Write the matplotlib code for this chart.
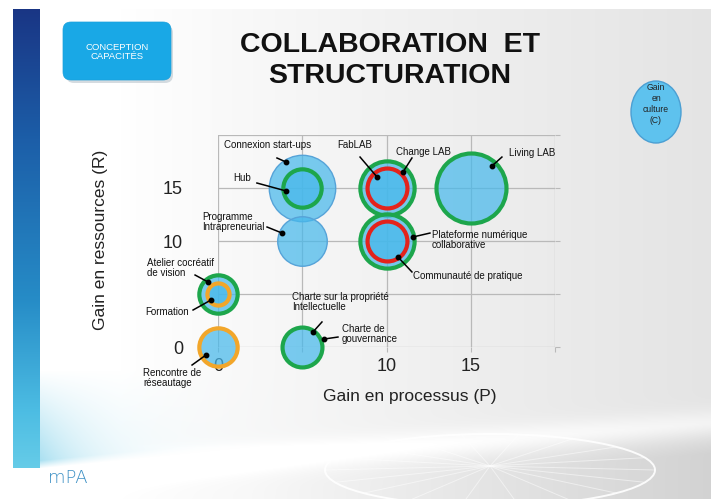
import numpy as np
import matplotlib
matplotlib.use("Agg")
import matplotlib.pyplot as plt
from matplotlib.patches import FancyBboxPatch, Ellipse

plt.rcParams['font.family'] = ['Liberation Sans', 'DejaVu Sans']

# ---------------- data ----------------
bubble_names = ["Connexion start-ups", "Living LAB", "Change LAB", "Plateforme numérique collaborative",
                "Programme Intrapreneurial", "Charte", "FabLAB", "Communauté de pratique",
                "Hub", "Atelier cocréatif de vision", "Rencontre de réseautage", "Formation"]
gain_processus = [5, 15, 10, 10, 5, 5, 10, 10, 5, 0, 0, 0]      # P (x)
gain_ressources = [15, 15, 15, 10, 10, 0, 15, 10, 15, 5, 0, 5]   # R (y)
gain_culture = [18, 20, 12, 12, 10, 6.5, 6.5, 6.5, 6, 6, 6, 2]   # C (bubble size)
ring_colour = ["none", "green", "green", "green", "none", "green", "red", "red",
               "green", "green", "orange", "orange"]

x_ticks = [0, 5, 10, 15, 20]
x_tick_labels = ["0", "", "10", "15", ""]
y_ticks = [0, 5, 10, 15, 20]
y_tick_labels = ["0", "", "10", "15", ""]

# annotation: label, text pos, ha, line start, dot pos (data coords)
annotations = [
    ("Connexion start-ups", (2.97, 19.06), "center", (3.50, 17.83), (4.04, 17.45)),
    ("Hub", (1.42, 15.94), "center", (2.31, 15.47), (4.04, 14.72)),
    ("Programme\nIntrapreneurial", (-0.95, 11.79), "left", (2.91, 11.32), (3.80, 10.75)),
    ("FabLAB", (8.13, 19.06), "center", (8.43, 17.92), (9.44, 16.04)),
    ("Change LAB", (12.17, 18.40), "center", (11.51, 17.83), (10.98, 16.51)),
    ("Living LAB", (18.64, 18.30), "center", (16.85, 17.92), (16.26, 17.08)),
    ("Plateforme numérique\ncollaborative", (12.70, 10.09), "left", (12.58, 10.75), (11.57, 10.38)),
    ("Communauté de pratique", (11.57, 6.70), "left", (11.51, 7.08), (10.68, 8.49)),
    ("Atelier cocréatif\nde vision", (-4.21, 7.45), "left", (-1.36, 6.79), (-0.59, 6.13)),
    ("Formation", (-4.33, 3.30), "left", (-1.48, 3.49), (-0.42, 4.43)),
    ("Rencontre de\nréseautage", (-4.45, -2.92), "left", (-1.54, -1.70), (-0.71, -0.75)),
    ("Charte sur la propriété\nIntellectuelle", (4.39, 4.25), "left", (6.17, 2.36), (5.64, 1.42)),
    ("Charte de\ngouvernance", (7.36, 1.23), "left", (7.12, 0.94), (6.29, 0.75)),
]

title_lines = ["COLLABORATION  ET", "STRUCTURATION"]

# ---------------- figure / background ----------------
W, H = 711, 499
fig = plt.figure(figsize=(W / 100, H / 100), dpi=100)
bg = fig.add_axes([0, 0, 1, 1])
bg.set_xlim(0, W)
bg.set_ylim(H, 0)
bg.axis("off")

yy, xx = np.mgrid[0:H, 0:W].astype(float)
g = 1.0 - 0.105 * np.clip((xx - 120) / 590, 0, 1) ** 0.9
curve = 478 - 55 * (xx / W)
below = np.clip((yy - curve) / 30, 0, 1)
g = g - 0.07 * below * np.clip((xx - 250) / 460, 0, 1)
g = g + 0.06 * np.exp(-((yy - curve) / 14) ** 2)
g = np.clip(g, 0, 1)
img = np.stack([g, g, g], axis=-1)

# soft cyan glow to the right of the bar
edge = 468 - 0.10 * (xx - 40)
glow = np.exp(-(xx - 40) / 55) * np.clip((yy - 370) / 90, 0, 1) * np.clip((edge - yy) / 8, 0, 1)
glow = glow * (xx >= 40)
cyan = np.array([0.45, 0.80, 0.91])
img = img * (1 - glow[..., None] * 0.6) + cyan * (glow[..., None] * 0.6)

# left bar
stops_y = [9, 140, 300, 410, 468]
stops_c = np.array([[0.10, 0.21, 0.52], [0.11, 0.37, 0.66], [0.15, 0.55, 0.78],
                     [0.30, 0.74, 0.89], [0.40, 0.80, 0.91]])
for ch in range(3):
    col = np.interp(np.arange(H), stops_y, stops_c[:, ch])
    img[9:468, 13:40, ch] = col[9:468, None]
img[:9, :, :] = 1.0
img[:, :13, :] = 1.0
bg.imshow(img, extent=(0, W, H, 0), interpolation="bilinear", zorder=0, aspect="auto")

# globe lines
bg.add_patch(Ellipse((490, 470), 330, 72, fill=False, ec="white", lw=1.4, alpha=0.9, zorder=1))
for ang in np.linspace(0, 2 * np.pi, 18, endpoint=False):
    ex, ey = 490 + 165 * np.cos(ang), 470 + 36 * np.sin(ang)
    bg.plot([490, ex], [466, ey], color="white", lw=0.7, alpha=0.5, zorder=1)

# header box
bg.add_patch(FancyBboxPatch((66, 25), 107, 58, boxstyle="round,pad=0,rounding_size=8",
                            fc="#b9c4cc", ec="none", alpha=0.6, zorder=2))
bg.add_patch(FancyBboxPatch((63, 22), 108, 58, boxstyle="round,pad=0,rounding_size=8",
                            fc="#19a8e6", ec="#19a0dc", lw=0.5, zorder=3))
bg.text(117, 52, "CONCEPTION\nCAPACITÉS", color="white", fontsize=6.8, ha="center", va="center",
        linespacing=1.05, zorder=4)

# title
bg.text(390, 45, title_lines[0], fontsize=20.5, fontweight="bold", ha="center", va="center", color="#111111")
bg.text(390, 76, title_lines[1], fontsize=20.5, fontweight="bold", ha="center", va="center", color="#111111")

# gain en culture circle
bg.add_patch(Ellipse((656, 112), 50, 62, fc="#5ec2ee", ec="#4b9fd3", lw=1.0, zorder=2))
bg.text(656, 104, "Gain\nen\nculture\n(C)", fontsize=6.2, ha="center", va="center",
        linespacing=1.3, color="#222222", zorder=3)

# logo
bg.text(48, 478, "mPA", fontsize=13, family="DejaVu Sans", fontweight="light",
        color="#3b8fc4", ha="left", va="center")

# axis labels
fig.text(410 / W, 1 - 396 / H, "Gain en processus (P)", fontsize=12.5, ha="center", va="center",
         color="#222222")
fig.text(101 / W, 1 - 240 / H, "Gain en ressources (R)", fontsize=12.5, ha="center", va="center",
         rotation=90, color="#222222")

# ---------------- chart ----------------
ax = fig.add_axes([218 / W, 1 - 347 / H, 337 / W, 212 / H])
ax.patch.set_alpha(0)
ax.set_xlim(0, 20)
ax.set_ylim(0, 20)
for s in ax.spines.values():
    s.set_visible(False)
ax.set_xticks(x_ticks)
ax.set_xticklabels(x_tick_labels)
ax.set_yticks(y_ticks)
ax.set_yticklabels(y_tick_labels)
ax.grid(True, color="#b9b9b9", lw=0.9)
ax.set_axisbelow(True)
ax.tick_params(axis="x", bottom=True, length=3.6, color="#b9b9b9", pad=4.0, labelsize=13,
               labelcolor="#222222")
ax.tick_params(axis="y", left=False, right=True, labelleft=True, length=3.6, color="#b9b9b9",
               pad=21.6, labelsize=13, labelcolor="#222222")

ring_map = {"green": "#1da64c", "red": "#e3231c", "orange": "#f2a62a", "none": "#56a3d8"}
face = (0.28, 0.72, 0.92, 0.72)
k = 127.0
for i in range(len(bubble_names)):
    rc = ring_colour[i]
    lw = 1.0 if rc == "none" else 3.0
    ax.scatter([gain_processus[i]], [gain_ressources[i]], s=k * gain_culture[i],
               facecolor=[face], edgecolor=ring_map[rc], linewidth=lw,
               clip_on=False, zorder=3 + i * 0.01)

for label, tpos, ha, start, dot in annotations:
    ax.text(tpos[0], tpos[1], label, fontsize=7, ha=ha, va="center", linespacing=1.1,
            color="#111111", clip_on=False, zorder=6)
    ax.plot([start[0], dot[0]], [start[1], dot[1]], color="black", lw=1.1, clip_on=False, zorder=6)
    ax.plot([dot[0]], [dot[1]], "o", color="black", ms=3.2, clip_on=False, zorder=6)

fig.savefig("out.png", dpi=100)
